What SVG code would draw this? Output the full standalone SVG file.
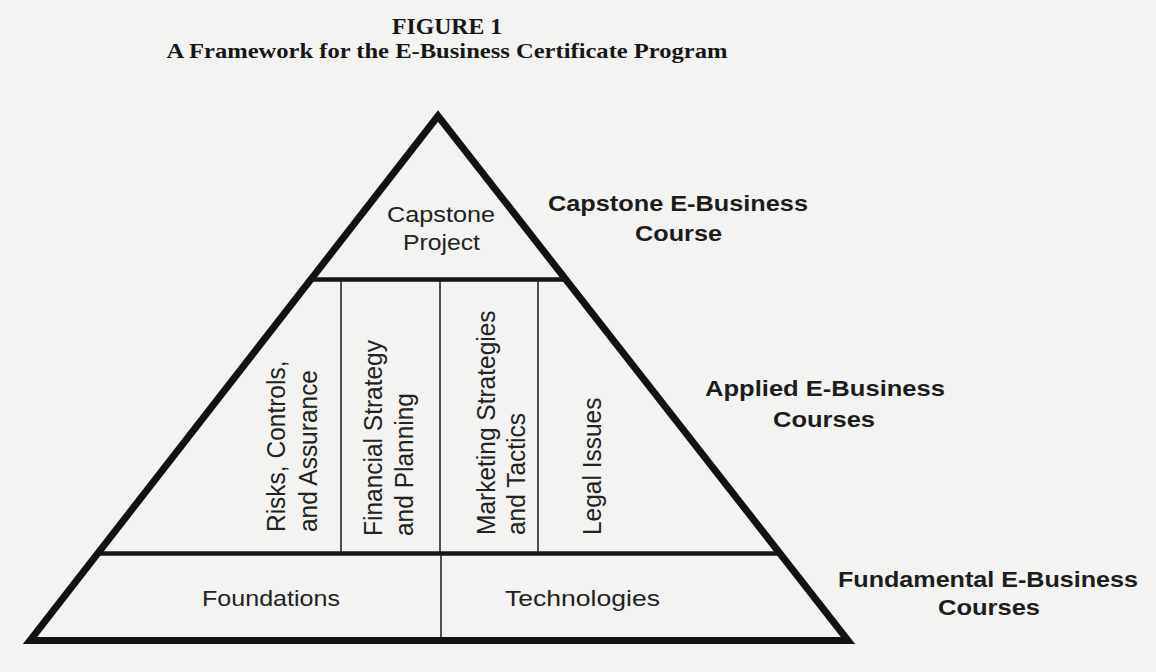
<svg xmlns="http://www.w3.org/2000/svg" width="1156" height="672" viewBox="0 0 1156 672">
  <style>
    .title { font-family: "Liberation Serif", "Times New Roman", serif; font-weight: bold; fill: #161616; }
    .tier { font-family: "Liberation Sans", Arial, sans-serif; font-weight: bold; font-size: 22.5px; fill: #1c1c1c; }
    .course { font-family: "Liberation Sans", Arial, sans-serif; font-size: 22.5px; fill: #222; }
    .vcourse { font-family: "Liberation Sans", Arial, sans-serif; font-size: 24.5px; fill: #222; }
    .frame { fill: none; stroke: #121212; stroke-width: 7; stroke-linejoin: miter; }
    .band { stroke: #151515; stroke-width: 4.5; }
    .divider { stroke: #1a1a1a; stroke-width: 1.5; }
  </style>

  <rect width="1156" height="672" fill="#f3f3f1"/>

  <!-- heading -->
  <g id="heading">
    <text class="title" x="447" y="34" font-size="22.5" text-anchor="middle" textLength="110" lengthAdjust="spacingAndGlyphs">FIGURE 1</text>
    <text class="title" x="447" y="58" font-size="21.5" text-anchor="middle" textLength="561" lengthAdjust="spacingAndGlyphs">A Framework for the E-Business Certificate Program</text>
  </g>

  <!-- pyramid outline and tier separators -->
  <g id="connectors">
    <polygon class="frame" points="438,116 30,640.5 848,640.5"/>
    <line class="band" x1="311" y1="279.5" x2="565" y2="279.5"/>
    <line class="band" x1="98" y1="553.5" x2="780" y2="553.5"/>
    <line class="divider" x1="341" y1="279.5" x2="341" y2="553.5"/>
    <line class="divider" x1="440" y1="279.5" x2="440" y2="553.5"/>
    <line class="divider" x1="538" y1="279.5" x2="538" y2="553.5"/>
    <line class="divider" x1="441" y1="553.5" x2="441" y2="640"/>
  </g>

  <!-- capstone tier -->
  <g id="capstone-project">
    <text class="course" x="441" y="222" text-anchor="middle" textLength="108" lengthAdjust="spacingAndGlyphs">Capstone</text>
    <text class="course" x="441.5" y="250" text-anchor="middle" textLength="77" lengthAdjust="spacingAndGlyphs">Project</text>
  </g>

  <!-- applied tier, vertical labels -->
  <g id="risks-controls">
    <text class="vcourse" transform="translate(285,532) scale(1.08,1) rotate(-90)">Risks, Controls,</text>
    <text class="vcourse" transform="translate(317,532) scale(1.08,1) rotate(-90)">and Assurance</text>
  </g>
  <g id="financial-strategy">
    <text class="vcourse" transform="translate(382,536) scale(1.08,1) rotate(-90)">Financial Strategy</text>
    <text class="vcourse" transform="translate(413,536) scale(1.08,1) rotate(-90)">and Planning</text>
  </g>
  <g id="marketing-strategies">
    <text class="vcourse" transform="translate(495,535) scale(1.08,1) rotate(-90)">Marketing Strategies</text>
    <text class="vcourse" transform="translate(525,535) scale(1.08,1) rotate(-90)">and Tactics</text>
  </g>
  <g id="legal-issues">
    <text class="vcourse" transform="translate(601,535) scale(1.08,1) rotate(-90)">Legal Issues</text>
  </g>

  <!-- fundamental tier -->
  <g id="foundations">
    <text class="course" x="271" y="606" text-anchor="middle" textLength="138" lengthAdjust="spacingAndGlyphs">Foundations</text>
  </g>
  <g id="technologies">
    <text class="course" x="582.5" y="606" text-anchor="middle" textLength="155" lengthAdjust="spacingAndGlyphs">Technologies</text>
  </g>

  <!-- tier names -->
  <g id="tier-capstone">
    <text class="tier" x="678" y="211" text-anchor="middle" textLength="260" lengthAdjust="spacingAndGlyphs">Capstone E-Business</text>
    <text class="tier" x="678.5" y="241" text-anchor="middle" textLength="87" lengthAdjust="spacingAndGlyphs">Course</text>
  </g>
  <g id="tier-applied">
    <text class="tier" x="825" y="395.5" text-anchor="middle" textLength="240" lengthAdjust="spacingAndGlyphs">Applied E-Business</text>
    <text class="tier" x="824" y="427" text-anchor="middle" textLength="102" lengthAdjust="spacingAndGlyphs">Courses</text>
  </g>
  <g id="tier-fundamental">
    <text class="tier" x="988" y="587" text-anchor="middle" textLength="300" lengthAdjust="spacingAndGlyphs">Fundamental E-Business</text>
    <text class="tier" x="989" y="615" text-anchor="middle" textLength="102" lengthAdjust="spacingAndGlyphs">Courses</text>
  </g>
</svg>
